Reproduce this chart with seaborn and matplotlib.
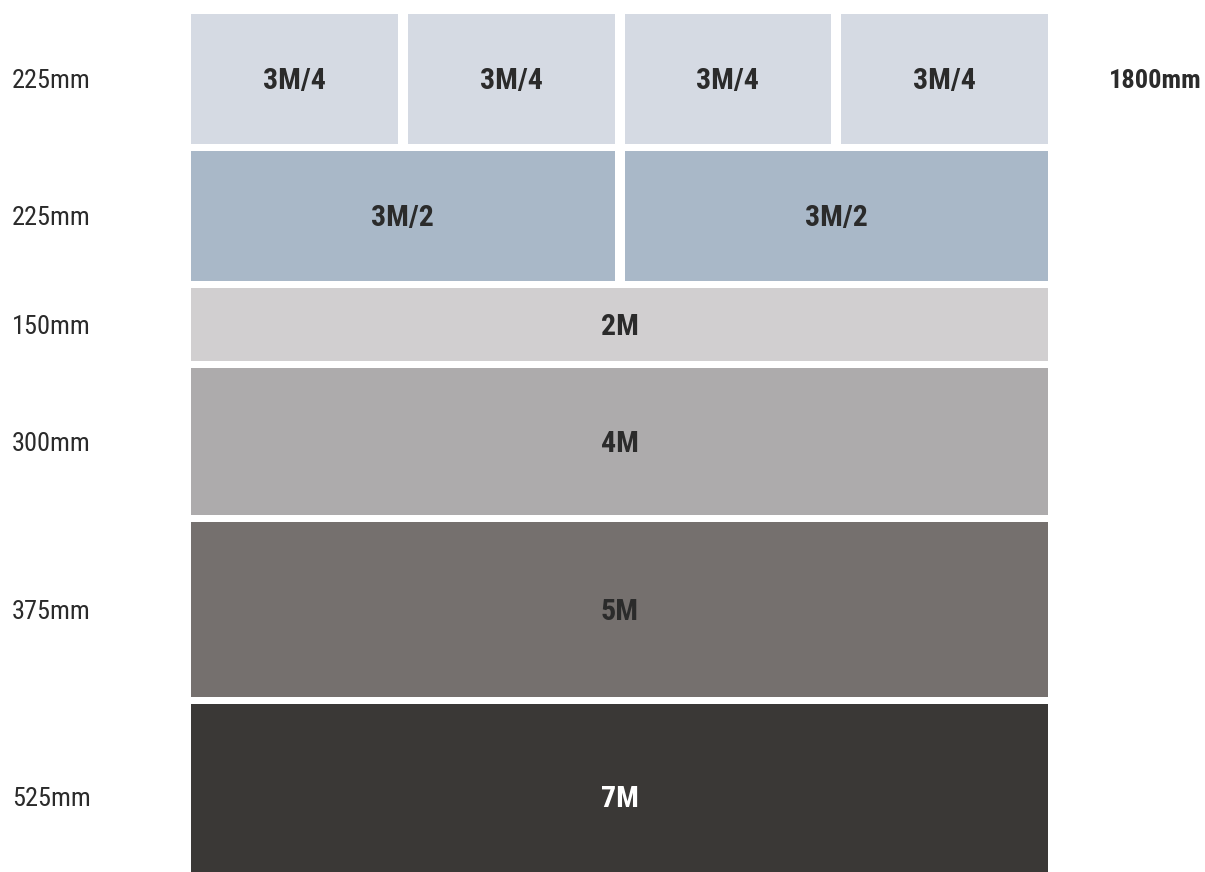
import matplotlib
matplotlib.use('Agg')
import matplotlib.pyplot as plt
import matplotlib.transforms as mtransforms
from matplotlib import font_manager
import seaborn as sns

# rows from top to bottom
row_mm=[225,225,150,300,375,525]
row_labels=['3M/4','3M/2','2M','4M','5M','7M']
row_pieces=[4,2,1,1,1,1]
row_depth=[130,130,73,147,175,186]   # drawn band heights
row_colors=['#D5DAE3','#A9B8C8','#D1CFD0','#ADABAC','#75706E','#3A3836']
text_colors=['#2B2B2B','#2B2B2B','#2B2B2B','#2B2B2B','#2B2B2B','#FFFFFF']
total_mm=1800
total_label='1800mm'

W,H=1205,872
ax_left_px,ax_width_px,ax_top_px=191,857,14
vgap=7
hgap_px=10
text_drop=2

sns.set_theme(style='white')
installed={f.name for f in font_manager.fontManager.ttflist}
family='DejaVu Sans'
for cand in ['Roboto Condensed','Liberation Sans Narrow','Roboto']:
    if cand in installed:
        family=cand
        break
plt.rcParams['font.family']=[family,'DejaVu Sans']

total_depth=sum(row_depth)+vgap*len(row_depth)
fig=plt.figure(figsize=(W/100,H/100),dpi=100)
fig.patch.set_facecolor('white')
ax=fig.add_axes([ax_left_px/W,(H-ax_top_px-total_depth)/H,ax_width_px/W,total_depth/H])

hgap=hgap_px*total_mm/ax_width_px
tr=mtransforms.blended_transform_factory(fig.transFigure,ax.transData)

y=0
for i in range(len(row_mm)):
    n=row_pieces[i]
    w=(total_mm-(n-1)*hgap)/n
    lefts=[j*(w+hgap) for j in range(n)]
    yc=y+row_depth[i]/2
    ax.barh([yc]*n,[w]*n,left=lefts,height=row_depth[i],color=row_colors[i],
            edgecolor='none',align='center')
    ty=yc+text_drop
    for l in lefts:
        ax.text(l+w/2,ty,row_labels[i],ha='center',va='center',fontsize=21.5,
                fontweight='bold',color=text_colors[i])
    ax.text(12/W,ty,str(row_mm[i])+'mm',transform=tr,ha='left',va='center',
            fontsize=19,color='#2B2B2B')
    if i==0:
        ax.text(1202/W,ty,total_label,transform=tr,ha='right',va='center',
                fontsize=19,fontweight='bold',color='#2B2B2B')
    y+=row_depth[i]+vgap

ax.set_xlim(0,total_mm)
ax.set_ylim(total_depth,0)
ax.axis('off')

fig.savefig('out.png',dpi=100,facecolor='white')
